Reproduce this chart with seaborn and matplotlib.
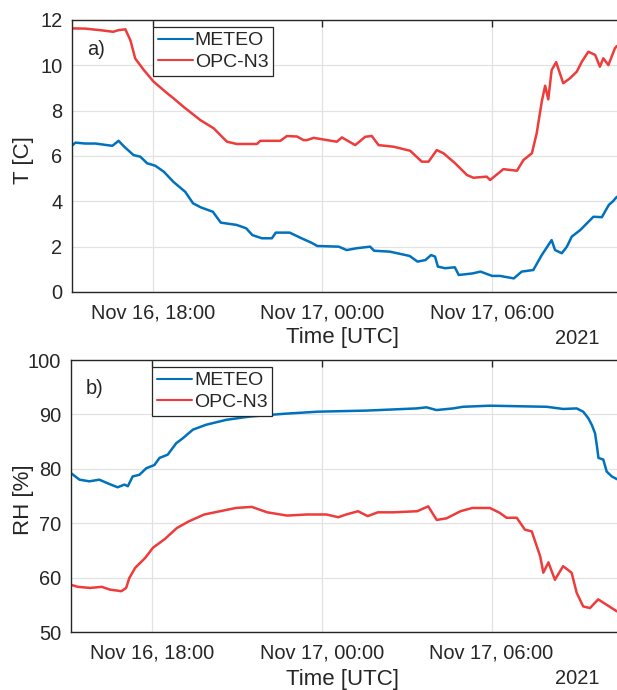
import numpy as np
import pandas as pd
import matplotlib
matplotlib.use("Agg")
import matplotlib.pyplot as plt
import matplotlib.dates as mdates
import seaborn as sns

# ---------------- data (hours after 2021-11-16 00:00 UTC) ----------------
t_opc_h = [15.15, 15.60, 16.14, 16.59, 16.77, 17.02, 17.20, 17.37, 17.67, 18.02,
           18.50, 18.73, 19.08, 19.67, 20.15, 20.38, 20.62, 20.97, 21.68, 21.80,
           22.51, 22.74, 23.10, 23.33, 23.45, 23.69, 24.51, 24.69, 25.16, 25.52,
           25.75, 25.99, 26.52, 27.11, 27.52, 27.76, 28.05, 28.29, 28.70, 29.12,
           29.35, 29.82, 29.94, 30.41, 30.89, 31.12, 31.42, 31.59, 31.77, 31.89,
           32.00, 32.12, 32.28, 32.53, 32.77, 33.01, 33.19, 33.42, 33.66, 33.83,
           33.95, 34.13, 34.36, 34.43]
t_opc = [11.63, 11.62, 11.55, 11.48, 11.55, 11.59, 11.10, 10.30, 9.80, 9.28,
         8.77, 8.54, 8.17, 7.59, 7.22, 6.93, 6.63, 6.53, 6.53, 6.67,
         6.67, 6.88, 6.86, 6.70, 6.70, 6.80, 6.63, 6.82, 6.48, 6.85,
         6.88, 6.48, 6.41, 6.23, 5.75, 5.75, 6.26, 6.12, 5.68, 5.16,
         5.04, 5.09, 4.94, 5.42, 5.35, 5.82, 6.12, 7.00, 8.40, 9.10,
         8.50, 9.79, 10.14, 9.21, 9.43, 9.72, 10.16, 10.60, 10.46, 9.94,
         10.31, 10.01, 10.75, 10.85]

t_met_h = [15.15, 15.25, 15.60, 15.96, 16.37, 16.56, 16.78, 16.98, 17.31, 17.55,
           17.79, 18.08, 18.38, 18.73, 19.14, 19.42, 19.70, 20.12, 20.40, 20.96,
           21.30, 21.52, 21.86, 22.21, 22.35, 22.84, 23.26, 23.60, 23.82, 24.58,
           24.86, 25.21, 25.69, 25.83, 26.39, 27.09, 27.37, 27.65, 27.85, 27.99,
           28.09, 28.34, 28.69, 28.83, 29.32, 29.60, 30.01, 30.29, 30.78, 31.06,
           31.47, 31.77, 32.12, 32.24, 32.48, 32.66, 32.83, 33.13, 33.60, 33.90,
           34.01, 34.15, 34.29, 34.43]
t_met = [6.48, 6.59, 6.55, 6.55, 6.48, 6.45, 6.67, 6.41, 6.04, 5.97,
         5.68, 5.57, 5.31, 4.85, 4.42, 3.91, 3.73, 3.54, 3.06, 2.96,
         2.81, 2.51, 2.37, 2.37, 2.62, 2.62, 2.37, 2.18, 2.03, 2.00,
         1.85, 1.93, 2.00, 1.82, 1.78, 1.59, 1.34, 1.41, 1.63, 1.56,
         1.12, 1.05, 1.09, 0.75, 0.82, 0.90, 0.71, 0.71, 0.60, 0.90,
         0.97, 1.63, 2.29, 1.85, 1.71, 2.00, 2.44, 2.73, 3.32, 3.30,
         3.55, 3.85, 4.00, 4.20]

rh_met_h = [15.13, 15.43, 15.78, 16.13, 16.49, 16.78, 17.02, 17.14, 17.31, 17.55,
            17.79, 18.08, 18.26, 18.55, 18.85, 19.08, 19.44, 19.91, 20.62, 21.44,
            22.62, 23.86, 25.58, 27.35, 27.70, 28.05, 28.64, 28.99, 29.94, 31.95,
            32.53, 33.01, 33.24, 33.42, 33.55, 33.66, 33.73, 33.78, 33.95, 34.07,
            34.25, 34.43]
rh_met = [79.2, 78.0, 77.7, 78.0, 77.2, 76.6, 77.1, 76.8, 78.6, 78.9,
          80.1, 80.7, 82.0, 82.6, 84.7, 85.6, 87.2, 88.1, 89.0, 89.6,
          90.1, 90.5, 90.7, 91.1, 91.3, 90.8, 91.1, 91.4, 91.6, 91.4,
          91.0, 91.1, 90.5, 89.3, 88.0, 86.5, 84.0, 82.0, 81.7, 79.5,
          78.6, 78.1]

rh_opc_h = [15.10, 15.38, 15.80, 16.22, 16.50, 16.91, 17.08, 17.19, 17.40, 17.75,
            18.03, 18.45, 18.87, 19.28, 19.84, 20.40, 20.96, 21.52, 22.07, 22.77,
            23.47, 24.16, 24.58, 24.86, 25.28, 25.62, 25.98, 26.53, 27.37, 27.76,
            28.06, 28.41, 28.90, 29.32, 29.94, 30.29, 30.53, 30.89, 31.18, 31.42,
            31.72, 31.83, 32.01, 32.24, 32.53, 32.83, 33.01, 33.24, 33.48, 33.77,
            34.07, 34.43]
rh_opc = [58.7, 58.3, 58.1, 58.3, 57.8, 57.5, 58.1, 59.9, 61.8, 63.6,
          65.5, 67.1, 69.1, 70.3, 71.6, 72.2, 72.8, 73.0, 72.0, 71.4,
          71.6, 71.6, 71.1, 71.6, 72.2, 71.3, 72.0, 72.0, 72.2, 73.1,
          70.6, 70.9, 72.2, 72.8, 72.8, 71.9, 71.0, 71.0, 68.8, 68.5,
          63.9, 60.9, 62.8, 59.6, 62.1, 60.9, 57.2, 54.7, 54.4, 56.0,
          55.0, 53.8]

series_names = ["METEO", "OPC-N3"]
t_ticks = [0, 2, 4, 6, 8, 10, 12]
rh_ticks = [50, 60, 70, 80, 90, 100]
x_start_h, x_end_h = 15.13, 34.435

# ---------------- style ----------------
sns.set_theme(style="white")
FONT = ["Liberation Sans", "DejaVu Sans"]
plt.rcParams["font.family"] = FONT
TXT = "#262626"
FS = 14.4
FSL = 16.0
FSLEG = 14.0
BLUE = "#0072BD"
RED = "#EE3B3B"
GRID = "#E2E2E2"

base = pd.Timestamp("2021-11-16 00:00")
def to_time(h):
    return base + pd.to_timedelta(np.asarray(h), unit="h")

df_t = pd.concat([
    pd.DataFrame({"time": to_time(t_met_h), "val": t_met, "src": series_names[0]}),
    pd.DataFrame({"time": to_time(t_opc_h), "val": t_opc, "src": series_names[1]}),
])
df_rh = pd.concat([
    pd.DataFrame({"time": to_time(rh_met_h), "val": rh_met, "src": series_names[0]}),
    pd.DataFrame({"time": to_time(rh_opc_h), "val": rh_opc, "src": series_names[1]}),
])

W, H = 617, 690
fig = plt.figure(figsize=(W / 100, H / 100), dpi=100)
ax1 = fig.add_axes([72 / W, 1 - 292 / H, 545 / W, 272 / H])
ax2 = fig.add_axes([71 / W, 1 - 632 / H, 546 / W, 272 / H])

palette = {series_names[0]: BLUE, series_names[1]: RED}

for ax, df, ticks, lab, letter, ylab_c in [
        (ax1, df_t, t_ticks, "T [C]", "a)", 160),
        (ax2, df_rh, rh_ticks, "RH [%]", "b)", 500)]:
    sns.lineplot(data=df, x="time", y="val", hue="src", palette=palette,
                 linewidth=1.8, ax=ax, estimator=None, sort=False)
    ax.set_xlim(to_time(x_start_h), to_time(x_end_h))
    ax.set_ylim(ticks[0], ticks[-1])
    ax.set_yticks(ticks)
    ax.xaxis.set_major_locator(mdates.HourLocator(byhour=[0, 6, 12, 18]))
    ax.xaxis.set_major_formatter(mdates.DateFormatter("%b %d, %H:%M"))
    ax.grid(True, color=GRID, linewidth=0.9)
    ax.set_axisbelow(True)
    ax.set_xlabel("")
    ax.set_ylabel("")
    for s in ["left", "bottom", "top"]:
        ax.spines[s].set_color(TXT)
        ax.spines[s].set_linewidth(1.0)
    ax.spines["right"].set_visible(False)
    ax.tick_params(axis="both", direction="in", length=5, width=1.0,
                   color=TXT, labelcolor=TXT, labelsize=FS)
    ax.tick_params(axis="x", top=True, pad=8)
    ax.tick_params(axis="y", pad=7)
    leg = ax.legend(loc="upper left",
                    bbox_to_anchor=(81 / 545, 1 - 7 / 272),
                    borderaxespad=0, frameon=True, fancybox=False,
                    edgecolor=TXT, framealpha=1, fontsize=FSLEG,
                    handlelength=1.8, handletextpad=0.1, borderpad=0.25,
                    labelspacing=0.2)
    leg.get_frame().set_linewidth(0.9)
    for tx in leg.get_texts():
        tx.set_color(TXT)
    for ln in leg.get_lines():
        ln.set_linewidth(1.5)
    ax.text(0.044, 0.89 if letter == "a)" else 0.897, letter, transform=ax.transAxes,
            ha="center", va="center", fontsize=FS, color=TXT)
    fig.text(23 / W, 1 - ylab_c / H, lab, rotation=90, ha="center", va="center",
             fontsize=FSL, color=TXT)

fig.text(343 / W, 1 - 338 / H, "Time [UTC]", ha="center", va="center", fontsize=FSL, color=TXT)
fig.text(577 / W, 1 - 338 / H, "2021", ha="center", va="center", fontsize=FS, color=TXT)
fig.text(343 / W, 1 - 679 / H, "Time [UTC]", ha="center", va="center", fontsize=FSL, color=TXT)
fig.text(577 / W, 1 - 678 / H, "2021", ha="center", va="center", fontsize=FS, color=TXT)

fig.savefig("out.png", dpi=100)
